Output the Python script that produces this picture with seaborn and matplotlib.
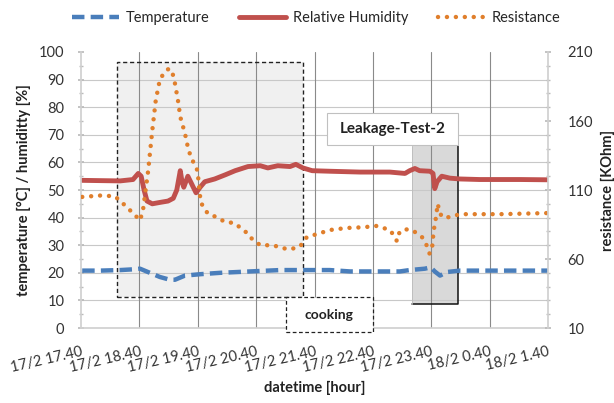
import pandas as pd
import seaborn as sns
import matplotlib.pyplot as plt
from matplotlib.patches import Rectangle
from matplotlib.ticker import MultipleLocator
from matplotlib.lines import Line2D

# ── data (hours after 17/2 17.40) ─────────────────
temp_h = [0.02, 0.33, 0.67, 0.92, 1.01, 1.18, 1.35, 1.52, 1.61, 1.78, 2.04, 2.38,
          2.89, 3.41, 4.26, 4.61, 5.46, 5.63, 5.89, 5.99, 6.06, 6.15, 6.27, 6.49, 8.0]
temp_v = [20.8, 20.8, 21.0, 21.3, 21.5, 20.0, 18.5, 17.5, 17.5, 19.0, 19.5, 20.0,
          20.5, 21.0, 21.0, 20.5, 20.5, 21.0, 21.5, 22.0, 20.5, 19.0, 20.3, 20.8, 20.8]

hum_h = [0.02, 0.33, 0.67, 0.89, 0.98, 1.03, 1.08, 1.13, 1.22, 1.35, 1.49, 1.58,
         1.64, 1.70, 1.73, 1.76, 1.83, 1.90, 1.97, 2.04, 2.12, 2.29, 2.47, 2.64,
         2.86, 3.07, 3.20, 3.37, 3.58, 3.68, 3.80, 3.96, 4.26, 4.78, 5.29, 5.55,
         5.63, 5.72, 5.80, 5.98, 6.03, 6.06, 6.10, 6.18, 6.32, 6.49, 6.83, 7.52, 8.0]
hum_v = [53.5, 53.4, 53.3, 53.8, 56.0, 55.0, 50.0, 46.0, 45.0, 45.5, 46.0, 47.0,
         50.0, 57.0, 53.0, 51.0, 55.0, 52.0, 49.0, 51.0, 53.0, 54.0, 55.5, 57.0,
         58.5, 58.8, 58.0, 58.8, 58.5, 59.3, 58.0, 57.0, 56.8, 56.5, 56.5, 56.0,
         57.0, 57.8, 57.0, 56.8, 56.0, 50.5, 53.0, 55.0, 54.3, 54.0, 53.8, 53.8, 53.7]

res_h = [0.02, 0.33, 0.58, 0.75, 0.92, 1.01, 1.06, 1.15, 1.22, 1.28, 1.35, 1.44,
         1.51, 1.56, 1.61, 1.66, 1.70, 1.78, 1.83, 1.88, 1.95, 1.98, 2.00, 2.05,
         2.17, 2.34, 2.46, 2.63, 2.84, 2.89, 3.01, 3.07, 3.19, 3.29, 3.44, 3.58,
         3.75, 3.87, 4.04, 4.26, 4.55, 4.83, 5.07, 5.29, 5.38, 5.41, 5.46, 5.60,
         5.72, 5.84, 5.92, 5.97, 6.01, 6.04, 6.08, 6.11, 6.15, 6.20, 6.32, 6.49,
         7.18, 8.0]
res_v = [105, 106, 105.5, 99, 92, 88, 95, 124, 153, 175, 190, 196,
         198, 196, 187, 175, 163, 151, 141, 134, 128, 126, 122, 101,
         93, 90, 87, 86, 79, 76, 72, 70, 70, 70, 68, 67,
         69, 76, 78, 81, 82.5, 83, 84, 81, 76, 73, 80, 81.7,
         79.6, 76, 70, 64, 66, 80, 90, 100, 93, 90, 90.4, 92.5,
         92.5, 93.3]

x_labels = ["17/2 17.40", "17/2 18.40", "17/2 19.40", "17/2 20.40", "17/2 21.40",
            "17/2 22.40", "17/2 23.40", "18/2 0.40", "18/2 1.40"]
res_ticks = [10, 60, 110, 160, 210]

temp_df = pd.DataFrame({"hour": temp_h, "value": temp_v})
hum_df = pd.DataFrame({"hour": hum_h, "value": hum_v})
res_df = pd.DataFrame({"hour": res_h, "value": res_v})

c_temp = "#4A7EBB"
c_hum = "#C0504D"
c_res = "#E07F2C"
temp_ls = (0, (2.8, 1.4))
res_ls = (0, (0.01, 2.0))

sns.set_theme(style="white")
plt.rcParams["font.family"] = ["Lato", "DejaVu Sans"]

fig = plt.figure(figsize=(6.14, 4.03), dpi=100)
ax = fig.add_axes([0.132, 0.186, 0.7605, 0.685])
ax2 = ax.twinx()

# ── shaded regions ────────────────────────────────
ax.add_patch(Rectangle((0.62, 11.2), 3.18, 85.2, facecolor="#f0f0f0",
                       edgecolor="none", zorder=0.2))
ax.add_patch(Rectangle((0.62, 11.2), 3.18, 85.2, facecolor="none",
                       edgecolor="#222222", linestyle=(0, (3, 2)), lw=1.0, zorder=1.2))
ax.add_patch(Rectangle((5.67, 8.7), 0.79, 57.2, facecolor="#d9d9d9",
                       edgecolor="none", zorder=0.2))
ax.plot([6.46, 6.46, 5.67], [65.9, 8.7, 8.7], color="#111111", lw=1.1, zorder=1.2)
ax.plot([5.67, 5.67], [8.7, 65.9], color="#bbbbbb", lw=0.6, zorder=1.2)

ax.grid(False)
for yv in range(10, 100, 10):
    ax.axhline(yv, color="#c8c8c8", lw=0.8, zorder=0.4)
for xv in range(1, 8):
    ax.axvline(xv, color="#8a8a8a", lw=0.8, zorder=0.4)

# ── series ────────────────────────────────────────
sns.lineplot(data=temp_df, x="hour", y="value", ax=ax, color=c_temp, lw=3.2,
             linestyle=temp_ls, legend=False, zorder=2)
sns.lineplot(data=hum_df, x="hour", y="value", ax=ax, color=c_hum, lw=3.5,
             legend=False, zorder=2)
sns.lineplot(data=res_df, x="hour", y="value", ax=ax2, color=c_res, lw=3.2,
             linestyle=res_ls, dash_capstyle="round", legend=False, zorder=2)

# ── label boxes ───────────────────────────────────
ax2.add_patch(Rectangle((4.21, 66.3 * 2 + 10), 2.25, 11.6 * 2, facecolor="white",
                        edgecolor="#c0c0c0", lw=0.8, zorder=3))
ax2.text(5.335, 72.1 * 2 + 10, "Leakage-Test-2", ha="center", va="center",
         fontsize=11, fontweight="bold", color="#222222", zorder=4)
ax2.add_patch(Rectangle((3.51, -1.4 * 2 + 10), 1.49, 12.6 * 2, facecolor="white",
                        edgecolor="#222222", linestyle=(0, (3, 2)), lw=0.9,
                        zorder=3, clip_on=False))
ax2.text(4.255, 4.9 * 2 + 10, "cooking", ha="center", va="center",
         fontsize=10, fontweight="bold", color="#222222", zorder=4, clip_on=False)

# ── axes ──────────────────────────────────────────
ax.set_xlim(0, 8)
ax.set_ylim(0, 100)
ax2.set_ylim(10, 210)
ax.set_xticks(range(9))
ax.set_xticklabels(x_labels, rotation=13, ha="right", va="top",
                   rotation_mode="anchor", fontsize=10.5, color="#333333")
ax.xaxis.set_minor_locator(MultipleLocator(0.5))
ax.yaxis.set_major_locator(MultipleLocator(10))
ax.yaxis.set_minor_locator(MultipleLocator(5))
ax2.set_yticks(res_ticks)
ax2.yaxis.set_minor_locator(MultipleLocator(10))

ax.tick_params(axis="x", which="major", length=4, direction="inout", color="#bbbbbb",
               pad=10)
ax.tick_params(axis="y", which="major", length=4, direction="inout", color="#bbbbbb",
               pad=10, labelsize=10.5, labelcolor="#333333")
ax.tick_params(which="minor", length=3, direction="inout", color="#bbbbbb")
ax2.tick_params(axis="y", which="major", length=4, direction="inout", color="#bbbbbb",
                pad=12, labelsize=10.5, labelcolor="#333333")
ax2.tick_params(axis="y", which="minor", length=3, direction="inout", color="#bbbbbb")

for a in (ax, ax2):
    for s in a.spines.values():
        s.set_visible(False)
ax.spines["left"].set_visible(True)
ax.spines["left"].set_color("#d0d0d0")
ax.spines["bottom"].set_visible(True)
ax.spines["bottom"].set_color("#d0d0d0")
ax2.spines["right"].set_visible(True)
ax2.spines["right"].set_color("#d0d0d0")

ax.set_xlabel("datetime [hour]", fontsize=10.5, fontweight="bold", color="#222222",
              labelpad=4)
ax.set_ylabel("temperature [°C] / humiditty [%]", fontsize=10.5, fontweight="bold",
              color="#222222", labelpad=6)
ax2.set_ylabel("resistance [KOhm]", fontsize=10.5, fontweight="bold",
               color="#222222", labelpad=6)

handles = [
    Line2D([], [], color=c_temp, lw=3.2, linestyle=temp_ls),
    Line2D([], [], color=c_hum, lw=3.5),
    Line2D([], [], color=c_res, lw=3.2, linestyle=res_ls, dash_capstyle="round"),
]
fig.legend(handles, ["Temperature", "Relative Humidity", "Resistance"],
           loc="center", bbox_to_anchor=(0.515, 0.955), ncol=3, frameon=False,
           fontsize=10.5, handlelength=3.2, columnspacing=2.0, handletextpad=0.5)

plt.savefig("out.png", dpi=100)
